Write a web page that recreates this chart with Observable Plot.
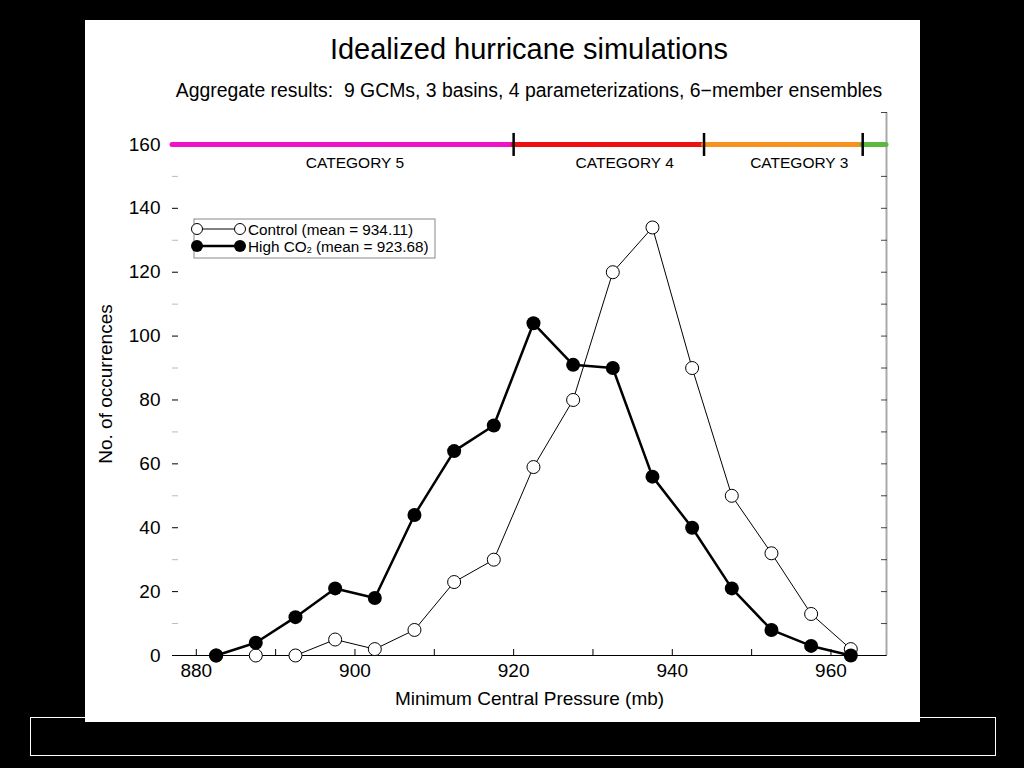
<!DOCTYPE html>
<html>
<head>
<meta charset="utf-8">
<script src="https://cdn.jsdelivr.net/npm/d3@7"></script>
<script src="https://cdn.jsdelivr.net/npm/@observablehq/plot@0.6"></script>
<style>
  html, body { margin: 0; padding: 0; background: #000; }
  body { width: 1024px; height: 768px; position: relative; overflow: hidden; font-family: "Liberation Sans", Arial, sans-serif; }
  #bottombox { position: absolute; left: 30px; top: 717px; width: 964px; height: 37px; border: 1px solid #fff; }
  #panel { position: absolute; left: 85px; top: 20px; width: 835px; height: 702px; background: #fff; }
  #title { position: absolute; left: 87px; width: 714px; top: 14.5px; text-align: center; font-size: 29px; line-height: 29px; color: #000; white-space: nowrap; }
  #subtitle { position: absolute; left: 87px; width: 714px; top: 60.5px; text-align: center; font-size: 19.4px; line-height: 19px; color: #000; white-space: nowrap; }
  #chart { position: absolute; left: 0; top: 80px; }
  #legend { position: absolute; left: 105px; top: 194px; }
</style>
</head>
<body>
<div id="bottombox"></div>
<div id="panel">
  <div id="title">Idealized hurricane simulations</div>
  <div id="subtitle">Aggregate results:&nbsp; 9 GCMs, 3 basins, 4 parameterizations, 6−member ensembles</div>
  <div id="chart"></div>
  <svg id="legend" width="260" height="50" font-family="Liberation Sans, Arial, sans-serif">
    <rect x="4" y="5" width="241" height="39" fill="#fff" stroke="#888" stroke-width="1"></rect>
    <line x1="7" x2="50" y1="15" y2="15" stroke="#000" stroke-width="1"></line>
    <circle cx="7" cy="15" r="5.5" fill="#fff" stroke="#000" stroke-width="1"></circle>
    <circle cx="50" cy="15" r="5.5" fill="#fff" stroke="#000" stroke-width="1"></circle>
    <text x="58" y="15" dominant-baseline="central" font-size="15.3">Control (mean = 934.11)</text>
    <line x1="7" x2="50" y1="32" y2="32" stroke="#000" stroke-width="2.5"></line>
    <circle cx="7" cy="32" r="6" fill="#000"></circle>
    <circle cx="50" cy="32" r="6" fill="#000"></circle>
    <text x="58" y="32" dominant-baseline="central" font-size="15.3">High CO<tspan font-size="9" dy="4">2</tspan><tspan dy="-4"> (mean = 923.68)</tspan></text>
  </svg>
</div>
<script>
// ---- data ----
const pressure = [882.5, 887.5, 892.5, 897.5, 902.5, 907.5, 912.5, 917.5, 922.5, 927.5, 932.5, 937.5, 942.5, 947.5, 952.5, 957.5, 962.5];
const control  = [0, 0, 0, 5, 2, 8, 23, 30, 59, 80, 120, 134, 90, 50, 32, 13, 2];
const highCO2  = [0, 4, 12, 21, 18, 44, 64, 72, 104, 91, 90, 56, 40, 21, 8, 3, 0];

const categoryStart  = [877, 920, 944, 964];
const categoryEnd    = [920, 944, 964, 967];
const categoryColors = ["#ee12c8", "#ee1010", "#f7921e", "#5cb83e"];
const categoryLevel  = 160;
const categoryBounds = [920, 944, 964];
const categoryNames  = ["CATEGORY 5", "CATEGORY 4", "CATEGORY 3"];
const categoryLabelX = [900, 934, 956];

const xTicks = [880, 900, 920, 940, 960];
const xMinorTicks = [880, 890, 900, 910, 920, 930, 940, 950, 960];
const yTicks = [0, 20, 40, 60, 80, 100, 120, 140, 160];
const yMinorTicks = [10, 30, 50, 70, 90, 110, 130, 150];
const yRightTicks = [0, 10, 20, 30, 40, 50, 60, 70, 80, 90, 100, 110, 120, 130, 140, 150, 160, 170];

// ---- derived tables ----
const rows = pressure.map((p, i) => ({p, control: control[i], high: highCO2[i]}));
const cats = categoryStart.map((s, i) => ({start: s, end: categoryEnd[i], color: categoryColors[i], level: categoryLevel}));
const catLabels = categoryNames.map((n, i) => ({name: n, x: categoryLabelX[i], level: categoryLevel}));
const bounds = categoryBounds.map(b => ({x: b, level: categoryLevel}));

const vbar = {
  draw(context, size) {
    const r = Math.sqrt(size / Math.PI);
    context.moveTo(0, -r);
    context.lineTo(0, r);
  }
};

const chart = Plot.plot({
  width: 835,
  height: 622,
  marginTop: 12,
  marginBottom: 67,
  marginLeft: 87,
  marginRight: 34,
  x: {domain: [877, 967]},
  y: {domain: [0, 170]},
  color: {type: "identity"},
  style: {fontFamily: "'Liberation Sans', Arial, sans-serif", fontSize: "19px", color: "#000", background: "transparent"},
  marks: [
    // right frame line and inward ticks
    Plot.ruleX([967], {stroke: "#aaa", strokeWidth: 2}),
    Plot.axisY({anchor: "right", ticks: yRightTicks, tickSize: 6, dx: -6, text: null, label: null, stroke: "#444"}),
    // left ticks (inward), minor lighter
    Plot.axisY({ticks: yMinorTicks, tickSize: 6, dx: 6, text: null, label: null, stroke: "#bbb"}),
    Plot.axisY({ticks: yTicks, tickSize: 6, dx: 6, text: null, label: null, stroke: "#000"}),
    Plot.axisY({ticks: yTicks, tickSize: 0, tickPadding: 12, label: null, fontSize: 19}),
    // x axis
    Plot.axisX({ticks: xMinorTicks, tickSize: 6, dy: -6, text: null, label: null}),
    Plot.axisX({ticks: xTicks, tickSize: 0, tickPadding: 8, label: null, fontSize: 19}),
    Plot.ruleY([0], {stroke: "#000", strokeWidth: 1}),
    Plot.text(["No. of occurrences"], {frameAnchor: "left", textAnchor: "middle", dx: -67, rotate: -90, fontSize: 19}),
    Plot.text(["Minimum Central Pressure (mb)"], {frameAnchor: "bottom", dy: 49, fontSize: 19}),
    // category bar
    Plot.ruleY(cats, {x1: "start", x2: "end", y: "level", stroke: "color", strokeWidth: 5, strokeLinecap: "round"}),
    Plot.dot(bounds, {x: "x", y: "level", symbol: vbar, r: 11.5, fill: "none", stroke: "#000", strokeWidth: 2.5}),
    Plot.text(catLabels, {x: "x", y: "level", text: "name", dy: 19, fontSize: 15.5}),
    // control series
    Plot.line(rows, {x: "p", y: "control", stroke: "#000", strokeWidth: 1}),
    Plot.dot(rows, {x: "p", y: "control", r: 6.5, fill: "#fff", stroke: "#000", strokeWidth: 1}),
    // high CO2 series
    Plot.line(rows, {x: "p", y: "high", stroke: "#000", strokeWidth: 2.5}),
    Plot.dot(rows, {x: "p", y: "high", r: 7, fill: "#000", stroke: "none"})
  ]
});
document.getElementById("chart").appendChild(chart);
</script>
</body>
</html>
